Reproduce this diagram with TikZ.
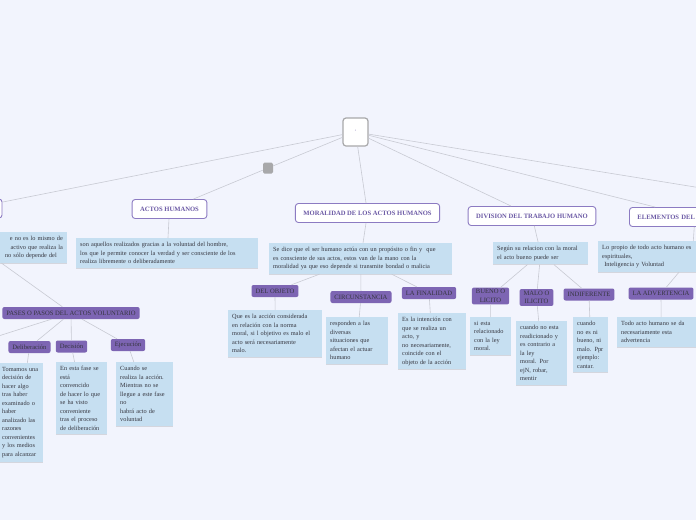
\documentclass[tikz,border=0pt]{standalone}
\usepackage{fontspec}
\setmainfont{Liberation Serif}
\usepackage{xcolor}
\usepackage{tikz}
\usetikzlibrary{shadows}
\definecolor{canvas}{HTML}{F2F4FD}
\definecolor{notefill}{HTML}{C6DFF1}
\definecolor{accent}{HTML}{7D65B3}
\definecolor{topicline}{HTML}{8C7BC2}
\definecolor{topictext}{HTML}{6A58A4}
\definecolor{muted}{HTML}{A8A8AA}
\definecolor{wire}{HTML}{C8CAD3}
\definecolor{ink}{HTML}{35353F}

\begin{document}
\begin{tikzpicture}[x=1pt,y=-1pt,
    topic/.style={draw=topicline, line width=0.9pt, fill=white, rounded corners=3pt,
      font=\fontsize{6.6}{7}\selectfont\bfseries, text=topictext, inner xsep=8pt, minimum height=19pt},
    tag/.style={fill=accent, rounded corners=2pt, font=\fontsize{6.6}{8.5}\selectfont,
      text=ink, inner xsep=4pt, inner ysep=2pt, minimum height=12pt, align=center},
    note/.style={fill=notefill, anchor=north west, align=left, inner sep=4pt,
      font=\fontsize{6.3}{8.5}\selectfont, text=ink,
      drop shadow={shadow xshift=0pt, shadow yshift=-1pt, fill=black, opacity=0.12}},
    wire/.style={draw=wire, line width=0.6pt}]
  \useasboundingbox (0,0) rectangle (696,520);
  \clip (0,0) rectangle (696,520);
  \fill[canvas] (0,0) rectangle (696,520);

  % Central topic and its collapsed marker
  \node[draw=muted, line width=1.2pt, fill=white, rounded corners=3pt, minimum width=25pt,
    minimum height=28pt, font=\fontsize{5}{5}\selectfont, text=topictext] (root) at (355.5,132) {'};
  \node[fill=muted, rounded corners=1.5pt, minimum width=10pt, minimum height=11pt, inner sep=0pt] (fold) at (268,168) {};
  \coordinate (rootmore) at (800,204);

  % Main topics
  \node[topic, minimum width=64pt] (lefttopic) at (-30,208.5) {};
  \node[topic] (actos) at (169.5,209) {ACTOS HUMANOS};
  \node[topic] (moral) at (367.5,213) {MORALIDAD DE LOS ACTOS HUMANOS};
  \node[topic] (division) at (532,216) {DIVISION DEL TRABAJO HUMANO};
  \node[topic, anchor=west, text width=115pt, align=left] (elem) at (629,217) {ELEMENTOS DEL};

  % Left branch
  \node[note, anchor=north east, text width=166pt, align=right] (leftnote) at (67,232)
    {e no es lo mismo de\hspace*{6pt}\\activo que realiza la\hspace*{6pt}\\no sólo depende del\hspace*{6pt}};
  \node[tag] (pases) at (71,313) {PASES O PASOS DEL ACTOS VOLUNTARIO};
  \coordinate (pasesmore) at (-30,345);
  \node[tag] (delib) at (29.5,347) {Deliberación};
  \node[tag] (decis) at (71.5,346.5) {Decisión};
  \node[tag] (ejec) at (128,345) {Ejecución};
  \node[note, text width=37pt] (delibnote) at (-2,363)
    {Tomamos una\\decisión de\\hacer algo\\tras haber\\examinado o\\haber\\analizado las\\razones\\convenientes\\y los medios\\para alcanzar};
  \node[note, text width=43pt] (decisnote) at (56,362)
    {En esta fase se\\está\\convencido\\de hacer lo que\\se ha visto\\conveniente\\tras el proceso\\de deliberación};
  \node[note, text width=49pt] (ejecnote) at (116,362)
    {Cuando se\\realiza la acción.\\Mientras no se\\llegue a este fase\\no\\habrá acto de\\voluntad};

  % Actos humanos
  \node[note, text width=174pt] (actosnote) at (76,238)
    {son aquellos realizados gracias a la voluntad del hombre,\\los que le permite conocer la verdad y ser consciente de los\\realiza libremente o deliberadamente};

  % Moralidad
  \node[note, text width=175pt] (moralnote) at (269,243)
    {Se dice que el ser humano actúa con un propósito o fin y \ que\\es consciente de sus actos, estos van de la mano con la\\moralidad ya que eso depende si transmite bondad o malicia};
  \node[tag] (objeto) at (275,291) {DEL OBJETO};
  \node[tag] (circ) at (361,297) {CIRCUNSTANCIA};
  \node[tag] (final) at (429,293) {LA FINALIDAD};
  \node[note, text width=86pt] (objetonote) at (228,310)
    {Que es la acción considerada\\en relación con la norma\\moral, si l objetivo es malo el\\acto será necesariamente\\malo.};
  \node[note, text width=54pt] (circnote) at (326,317)
    {responden a las\\diversas\\situaciones que\\afectan el actuar\\humano};
  \node[note, text width=60pt] (finalnote) at (398,313)
    {Es la intención con\\que se realiza un\\acto, y\\no necesariamente,\\coincide con el\\objeto de la acción};

  % Division
  \node[note, text width=87pt] (divnote) at (493,242)
    {Según su relacion con la moral\\el acto bueno puede ser};
  \node[tag] (bueno) at (490.5,296) {BUENO O\\LICITO};
  \node[tag] (malo) at (536.5,297.5) {MALO O\\ILICITO};
  \node[tag] (indif) at (589,294.5) {INDIFERENTE};
  \node[note, text width=33pt] (buenonote) at (470,317)
    {si esta\\relacionado\\con la ley\\moral.};
  \node[note, text width=43pt] (malonote) at (516,321)
    {cuando no esta\\readicionado y\\es contrario a\\la ley\\moral. Por\\ejN, robar,\\mentir};
  \node[note, text width=27pt] (indifnote) at (573,317)
    {cuando\\no es ni\\bueno, ni\\malo. Ppr\\ejemplo:\\cantar.};

  % Elementos
  \node[note, text width=180pt] (elemnote) at (598,241)
    {Lo propio de todo acto humano es\\espirituales,\\\ Inteligencia y Voluntad};
  \node[tag] (advert) at (661,293.5) {LA ADVERTENCIA};
  \node[note, text width=80pt] (advertnote) at (617,317)
    {Todo acto humano se da\\necesariamente esta\\advertencia};

  % Connectors
  \foreach \a/\b in {root/lefttopic, root/fold, fold/actos, root/moral, root/division,
      root/elem, root/rootmore, actos/actosnote, leftnote/pases, pases/pasesmore,
      pases/delib, pases/decis, pases/ejec, delib/delibnote, decis/decisnote, ejec/ejecnote,
      moral/moralnote, moralnote/objeto, moralnote/circ, moralnote/final,
      objeto/objetonote, circ/circnote, final/finalnote,
      division/divnote, divnote/bueno, divnote/malo, divnote/indif,
      bueno/buenonote, malo/malonote, indif/indifnote,
      elem/elemnote, elemnote/advert, advert/advertnote}
    \draw[wire] (\a) -- (\b);
\end{tikzpicture}
\end{document}
